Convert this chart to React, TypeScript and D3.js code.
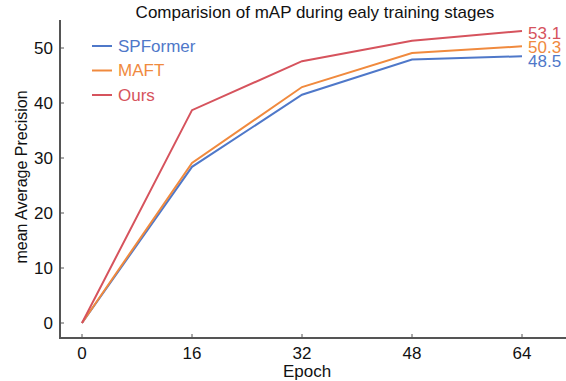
import React from 'react';
import * as d3 from 'd3';

const epochs = [0, 16, 32, 48, 64];
const spformer = [0, 28.4, 41.5, 47.9, 48.5];
const maft = [0, 29.1, 42.9, 49.1, 50.3];
const ours = [0, 38.7, 47.6, 51.3, 53.1];
const yTicks = [0, 10, 20, 30, 40, 50];

// label offsets keep the end values apart like in the original figure
const series = [
  { name: 'SPFormer', values: spformer, color: '#4f78c9', label: '48.5', dy: 5 },
  { name: 'MAFT', values: maft, color: '#f08a3e', label: '50.3', dy: 1 },
  { name: 'Ours', values: ours, color: '#d6535d', label: '53.1', dy: 2 },
];

const width = 566;
const height = 381;
const font = 'Liberation Sans, Arial, sans-serif';

const App: React.FC = () => {
  const x = d3.scaleLinear().domain([0, 64]).range([82, 522]);
  const y = d3.scaleLinear().domain([0, 50]).range([323, 48]);

  const line = d3
    .line<number>()
    .x((_, i) => x(epochs[i]))
    .y(d => y(d));

  const axisColor = '#555';

  return (
    <svg
      width={width}
      height={height}
      style={{ position: 'absolute', left: 0, top: 0, background: '#fff' }}
      fontFamily={font}
    >
      {/* title */}
      <text x={315} y={18} textAnchor="middle" fontSize={17} fill="#111">
        Comparision of mAP during ealy training stages
      </text>

      {/* spines */}
      <line x1={60} x2={60} y1={20} y2={338} stroke={axisColor} strokeWidth={2} />
      <line x1={59} x2={566} y1={338} y2={338} stroke={axisColor} strokeWidth={2} />

      {/* y ticks */}
      {yTicks.map(t => (
        <g key={t}>
          <line x1={60} x2={64} y1={y(t)} y2={y(t)} stroke={axisColor} strokeWidth={1} />
          <text x={53} y={y(t)} dy="0.35em" textAnchor="end" fontSize={17} fill="#111">
            {t}
          </text>
        </g>
      ))}

      {/* x ticks */}
      {epochs.map(t => (
        <g key={t}>
          <line x1={x(t)} x2={x(t)} y1={334} y2={338} stroke={axisColor} strokeWidth={1} />
          <text x={x(t)} y={359} textAnchor="middle" fontSize={17} fill="#111">
            {t}
          </text>
        </g>
      ))}

      {/* axis labels */}
      <text x={307} y={377} textAnchor="middle" fontSize={17} fill="#111">
        Epoch
      </text>
      <text
        transform="translate(27,177) rotate(-90)"
        textAnchor="middle"
        fontSize={16}
        fill="#111"
      >
        mean Average Precision
      </text>

      {/* lines */}
      {series.map(s => (
        <path key={s.name} d={line(s.values) || ''} fill="none" stroke={s.color} strokeWidth={2} />
      ))}

      {/* end labels */}
      {series.map(s => (
        <text
          key={s.name + '-end'}
          x={528}
          y={y(s.values[s.values.length - 1]) + s.dy}
          dy="0.35em"
          fontSize={17}
          fill={s.color}
        >
          {s.label}
        </text>
      ))}

      {/* legend */}
      {series.map((s, i) => (
        <g key={s.name + '-legend'} transform={`translate(92, ${46 + i * 24.5})`}>
          <line x1={0} x2={20} y1={0} y2={0} stroke={s.color} strokeWidth={2} />
          <text x={26} y={0} dy="0.35em" fontSize={17} fill={s.color}>
            {s.name}
          </text>
        </g>
      ))}
    </svg>
  );
};

export default App;
